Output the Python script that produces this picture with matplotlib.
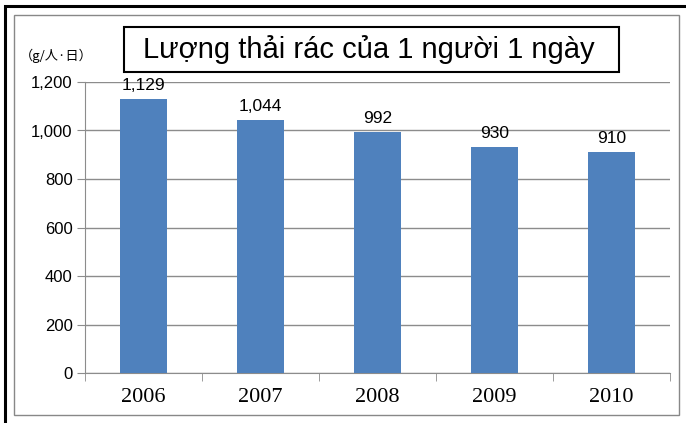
import matplotlib.pyplot as plt
import matplotlib.patches as mpatches

# data
years = ["2006", "2007", "2008", "2009", "2010"]
values = [1129, 1044, 992, 930, 910]
labels = ["1,129", "1,044", "992", "930", "910"]
y_ticks = [0, 200, 400, 600, 800, 1000, 1200]

W, H = 686, 423
fig = plt.figure(figsize=(W / 100, H / 100), dpi=100)
fig.patch.set_facecolor("white")

# outer borders
fig.patches.append(mpatches.Rectangle((5 / W, -0.02), 1.0, 1 - 6 / H + 0.02, transform=fig.transFigure,
                                      fill=False, edgecolor="black", linewidth=2.2))
fig.patches.append(mpatches.Rectangle((14 / W, 1 - 415 / H), (679 - 14) / W, (415 - 15) / H,
                                      transform=fig.transFigure, fill=False, edgecolor="#888888", linewidth=1.0))

ax = fig.add_axes([85 / W, 1 - 373 / H, (670 - 85) / W, (373 - 82) / H])
x = range(len(years))
ax.bar(x, values, width=0.4, color="#4f81bd", zorder=3)
ax.set_xlim(-0.5, 4.5)
ax.set_ylim(0, 1200)
ax.set_yticks(y_ticks)
ax.set_yticklabels([f"{v:,}" for v in y_ticks], fontsize=12, family="Liberation Sans")
ax.set_xticks(list(x))
ax.set_xticklabels(years, fontsize=16, family="Liberation Serif")
ax.tick_params(axis="x", length=0, pad=11)
ax.tick_params(axis="y", length=6, color="#8c8c8c", pad=3)
ax.set_xticks([i - 0.5 for i in range(6)], minor=True)
ax.tick_params(axis="x", which="minor", length=6, color="#8c8c8c")
ax.grid(axis="y", color="#8c8c8c", linewidth=1.0, zorder=0)
for s in ["top", "right"]:
    ax.spines[s].set_visible(False)
ax.spines["left"].set_color("#8c8c8c")
ax.spines["bottom"].set_color("#8c8c8c")

for i, (v, t) in enumerate(zip(values, labels)):
    ax.text(i, v + 25, t, ha="center", va="bottom", fontsize=12.5, family="Liberation Sans")

fig.text(20 / W, 1 - 56 / H, "（g/人·日）", fontsize=9.5, family=["Noto Sans CJK JP", "DejaVu Sans"],
         va="center", ha="left")

# title box
fig.patches.append(mpatches.Rectangle((124 / W, 1 - 72 / H), (619 - 124) / W, (72 - 27) / H,
                                      transform=fig.transFigure, facecolor="white", edgecolor="black",
                                      linewidth=1.5, zorder=5))
fig.text((124 + 619) / 2 / W - 3 / W, 1 - 50 / H, "Lượng thải rác của 1 người 1 ngày", fontsize=21,
         family="Liberation Sans", ha="center", va="center", zorder=6)

fig.savefig("out.png", dpi=100)
